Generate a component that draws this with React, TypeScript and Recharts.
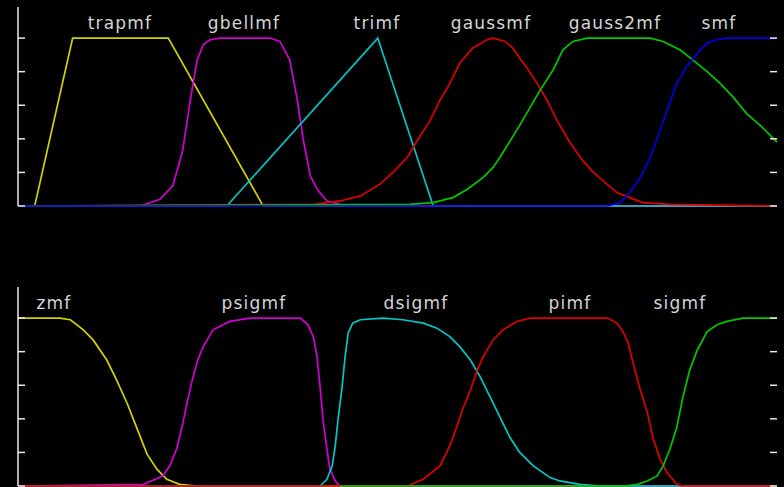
import React from "react";
import { LineChart, Line, XAxis, YAxis } from "recharts";

type P = [number, number];

// ---- top panel ----
const trapmfPts: P[] = [[0, 0], [0.22, 0], [0.72, 1], [1.98, 1], [3.23, 0], [10, 0]];
const gbellmfPts: P[] = [
  [0, 0], [1.61, 0], [1.87, 0.04], [2.04, 0.12], [2.17, 0.33], [2.27, 0.63], [2.36, 0.87],
  [2.44, 0.96], [2.53, 0.99], [2.66, 1], [3.32, 1], [3.45, 0.98], [3.58, 0.87], [3.68, 0.63],
  [3.76, 0.39], [3.85, 0.18], [3.94, 0.1], [4.07, 0.03], [4.24, 0.01], [4.37, 0], [10, 0],
];
const trimfPts: P[] = [[0, 0], [2.75, 0], [4.74, 1], [5.47, 0], [10, 0]];
const gaussmfPts: P[] = [
  [0, 0], [3.91, 0.01], [4.24, 0.03], [4.51, 0.06], [4.77, 0.13], [4.94, 0.2], [5.13, 0.29],
  [5.26, 0.39], [5.43, 0.51], [5.56, 0.63], [5.69, 0.73], [5.82, 0.85], [5.99, 0.94],
  [6.18, 0.99], [6.26, 1], [6.42, 0.98], [6.52, 0.94], [6.61, 0.88], [6.71, 0.82], [6.84, 0.73],
  [6.97, 0.63], [7.1, 0.51], [7.27, 0.38], [7.44, 0.27], [7.58, 0.2], [7.89, 0.08],
  [8.23, 0.02], [8.59, 0.01], [10, 0],
];
const gauss2mfPts: P[] = [
  [0, 0], [5.16, 0.01], [5.47, 0.02], [5.73, 0.05], [5.92, 0.1], [6.13, 0.17], [6.26, 0.23],
  [6.35, 0.29], [6.61, 0.48], [6.88, 0.69], [7.05, 0.81], [7.18, 0.93], [7.31, 0.98], [7.5, 1],
  [8.33, 1], [8.5, 0.98], [8.72, 0.93], [8.89, 0.87], [9.08, 0.8], [9.25, 0.73], [9.42, 0.65],
  [9.6, 0.55], [9.78, 0.48], [10, 0.38],
];
const smfPts: P[] = [
  [0, 0], [7.76, 0], [7.93, 0.02], [8.06, 0.08], [8.2, 0.17], [8.33, 0.29], [8.46, 0.45],
  [8.55, 0.57], [8.68, 0.73], [8.81, 0.83], [8.95, 0.91], [9.08, 0.97], [9.21, 0.99], [9.34, 1], [10, 1],
];

// ---- bottom panel ----
const zmfPts: P[] = [
  [0, 1], [0.55, 1], [0.69, 0.99], [0.86, 0.93], [0.99, 0.87], [1.17, 0.75], [1.3, 0.63],
  [1.44, 0.49], [1.57, 0.34], [1.7, 0.19], [1.83, 0.1], [1.96, 0.04], [2.13, 0.01], [2.36, 0], [10, 0],
];
const psigmfPts: P[] = [
  [0, 0], [1.65, 0.01], [1.91, 0.06], [2.0, 0.12], [2.09, 0.22], [2.16, 0.35], [2.23, 0.5],
  [2.29, 0.62], [2.36, 0.74], [2.44, 0.83], [2.57, 0.93], [2.79, 0.98], [3.06, 1], [3.72, 1],
  [3.82, 0.96], [3.89, 0.89], [3.94, 0.77], [3.98, 0.59], [4.02, 0.39], [4.07, 0.22],
  [4.11, 0.1], [4.18, 0.03], [4.24, 0], [10, 0],
];
const dsigmfPts: P[] = [
  [0, 0], [3.98, 0], [4.07, 0.04], [4.14, 0.12], [4.18, 0.24], [4.22, 0.41], [4.27, 0.59],
  [4.31, 0.77], [4.35, 0.91], [4.41, 0.97], [4.51, 0.99], [4.81, 1], [5.07, 0.99], [5.34, 0.97],
  [5.52, 0.94], [5.69, 0.89], [5.82, 0.83], [5.96, 0.75], [6.09, 0.65], [6.22, 0.53],
  [6.35, 0.41], [6.48, 0.29], [6.61, 0.2], [6.79, 0.12], [7.01, 0.05], [7.14, 0.03],
  [7.4, 0.01], [7.67, 0], [10, 0],
];
const pimfPts: P[] = [
  [0, 0], [5.13, 0], [5.34, 0.04], [5.56, 0.12], [5.69, 0.24], [5.78, 0.35], [5.86, 0.46],
  [5.96, 0.57], [6.05, 0.69], [6.13, 0.77], [6.26, 0.87], [6.39, 0.93], [6.57, 0.98], [6.75, 1],
  [7.77, 1], [7.89, 0.97], [7.97, 0.92], [8.04, 0.85], [8.1, 0.74], [8.2, 0.57], [8.29, 0.44],
  [8.37, 0.28], [8.46, 0.16], [8.55, 0.08], [8.68, 0.01], [8.75, 0], [10, 0],
];
const sigmfPts: P[] = [
  [4.24, 0], [8.0, 0], [8.16, 0.01], [8.29, 0.03], [8.42, 0.06], [8.5, 0.12], [8.59, 0.22],
  [8.68, 0.35], [8.76, 0.53], [8.85, 0.69], [8.95, 0.81], [9.08, 0.92], [9.21, 0.96],
  [9.34, 0.98], [9.55, 1], [10, 1],
];

const topNames = ["trapmf", "gbellmf", "trimf", "gaussmf", "gauss2mf", "smf"];
const topLabelX = [120, 244, 377, 491, 615, 719];
const bottomNames = ["zmf", "psigmf", "dsigmf", "pimf", "sigmf"];
const bottomLabelX = [54, 254, 416, 570, 680];

const yTicks = [0, 0.2, 0.4, 0.6, 0.8, 1];

const topSeries = [
  { pts: trapmfPts, color: "#d2d200" },
  { pts: gbellmfPts, color: "#d200d2" },
  { pts: trimfPts, color: "#00c8c8" },
  { pts: gaussmfPts, color: "#e00000" },
  { pts: gauss2mfPts, color: "#00c800" },
  { pts: smfPts, color: "#0000e6" },
];
const bottomSeries = [
  { pts: zmfPts, color: "#d2d200" },
  { pts: psigmfPts, color: "#d200d2" },
  { pts: dsigmfPts, color: "#00c8c8" },
  { pts: pimfPts, color: "#e00000" },
  { pts: sigmfPts, color: "#00c800" },
];

const toRows = (pts: P[]) => pts.map(([x, y]) => ({ x, y }));
const NoLabel = () => <g />;

function Panel({ series }: { series: { pts: P[]; color: string }[] }) {
  return (
    <LineChart width={784} height={215} margin={{ top: 7, right: 7, bottom: 9, left: 18 }}>
      <XAxis type="number" dataKey="x" domain={[0, 10]} hide />
      <YAxis
        yAxisId="r"
        orientation="right"
        mirror
        width={10}
        type="number"
        domain={[0, 1.185]}
        ticks={yTicks}
        tick={NoLabel}
        tickSize={7}
        axisLine={false}
        tickLine={{ stroke: "#e8e8e8", strokeWidth: 1.5 }}
      />
      <YAxis
        yAxisId="l"
        orientation="left"
        mirror
        width={10}
        type="number"
        domain={[0, 1.185]}
        ticks={yTicks}
        tick={NoLabel}
        tickSize={7}
        axisLine={{ stroke: "#e8e8e8", strokeWidth: 1.5 }}
        tickLine={{ stroke: "#e8e8e8", strokeWidth: 1.5 }}
      />
      <Line
        yAxisId="r"
        data={toRows(series[0].pts)}
        dataKey="y"
        stroke="none"
        dot={false}
        activeDot={false}
        isAnimationActive={false}
      />
      {series.map((s, i) => (
        <Line
          key={i}
          yAxisId="l"
          data={toRows(s.pts)}
          dataKey="y"
          type="linear"
          stroke={s.color}
          strokeWidth={1.7}
          dot={false}
          activeDot={false}
          isAnimationActive={false}
        />
      ))}
    </LineChart>
  );
}

const labelStyle: React.CSSProperties = {
  fontFamily: "'DejaVu Sans', sans-serif",
  fontSize: 17,
  letterSpacing: 1.2,
};

export default function App() {
  return (
    <div style={{ position: "absolute", left: 0, top: 0, width: 784, height: 487, background: "#000", overflow: "hidden" }}>
      <div style={{ position: "absolute", left: 0, top: 0 }}>
        <Panel series={topSeries} />
      </div>
      <div style={{ position: "absolute", left: 0, top: 280 }}>
        <Panel series={bottomSeries} />
      </div>
      <svg width={784} height={487} style={{ position: "absolute", left: 0, top: 0, pointerEvents: "none" }}>
        {topNames.map((n, i) => (
          <text key={n} x={topLabelX[i]} y={29} textAnchor="middle" fill="#d4d4d4" style={labelStyle}>
            {n}
          </text>
        ))}
        {bottomNames.map((n, i) => (
          <text key={n} x={bottomLabelX[i]} y={309} textAnchor="middle" fill="#d4d4d4" style={labelStyle}>
            {n}
          </text>
        ))}
      </svg>
    </div>
  );
}
